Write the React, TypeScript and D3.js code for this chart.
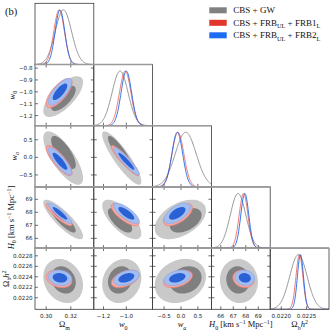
import React from "react";
import * as d3 from "d3";

// parameter order: Omega_m, w0, wa, H0, Omega_b h^2
const paramDomains = [[0.2909, 0.3387], [-1.285, -0.77], [-0.84, 0.9], [65.25, 69.95], [0.02178, 0.022947]];
const xTickValues = [[0.30, 0.32], [-1.2, -1.0], [-0.5, 0.0, 0.5], [66, 67, 68, 69], [0.0220, 0.0225]];
const yTickValues = [[], [-0.8, -0.9, -1.0, -1.1, -1.2], [0.5, 0.0, -0.5], [66, 67, 68, 69], [0.0228, 0.0226, 0.0224, 0.0222, 0.0220]];
const tickFormats = [".2f", ".1f", ".1f", ".0f", ".4f"];

const gwMean = [0.3138, -1.04, -0.02, 67.45, 0.02232];
const gwPeak = [0.3140, -1.055, 0.14, 67.38, 0.02234];
const gwSigma = [0.0066, 0.070, 0.31, 0.62, 0.000172];
const frb1Mean = [0.3105, -1.01, -0.09, 67.82, 0.02236];
const frb1Sigma = [0.0043, 0.050, 0.175, 0.35, 0.000068];
const frb2Mean = [0.3112, -1.0, -0.11, 67.92, 0.02238];
const frb2Sigma = [0.0039, 0.046, 0.16, 0.32, 0.00006];

// correlation for each lower-triangle panel (row param vs column param)
const pairRow = [1, 2, 2, 3, 3, 3, 4, 4, 4, 4];
const pairCol = [0, 0, 1, 0, 1, 2, 0, 1, 2, 3];
const gwRho = [0.7, -0.75, -0.88, -0.85, -0.7, 0.45, -0.2, 0.15, 0.2, -0.05];
const frb1Rho = [0.72, -0.82, -0.92, -0.88, -0.75, 0.6, -0.25, 0.45, 0.4, -0.15];
const frb2Rho = [0.75, -0.85, -0.93, -0.9, -0.77, 0.6, -0.15, 0.4, 0.35, -0.1];

const legendLabels = ["CBS + GW", "CBS + FRB_UL + FRB1_L", "CBS + FRB_UL + FRB2_L"];

const series = [
  { mean: gwMean, peak: gwPeak, sigma: gwSigma, rho: gwRho, outer: "#c9c9c9", inner: "#7f7f7f", edge: "none", line: "#8a8a8a", key: "#808080" },
  { mean: frb1Mean, peak: frb1Mean, sigma: frb1Sigma, rho: frb1Rho, outer: "#f4a9a1", inner: "#e4473d", edge: "#ec7d73", line: "#e8534a", key: "#e2362c" },
  { mean: frb2Mean, peak: frb2Mean, sigma: frb2Sigma, rho: frb2Rho, outer: "#a3bdf1", inner: "#2a62d6", edge: "#8aa8ea", line: "#1f67e6", key: "#1b6cf0" },
];

const X0 = 35, Y0 = 3.3, PW = 58.8, PH = 61.2;
const R68 = 1.515, R95 = 2.448;
const tickFont = "DejaVu Sans";
const mathFont = "Liberation Serif";

function ellipse(mx, my, sx, sy, rho, r) {
  return d3.range(97).map((i) => {
    const t = (i / 96) * 2 * Math.PI;
    const c = Math.cos(t), s = Math.sin(t);
    return [mx + r * sx * c, my + r * sy * (rho * c + Math.sqrt(1 - rho * rho) * s)];
  });
}

function MathText({ parts, size, ...rest }) {
  let prev = 0;
  return (
    <text fontFamily={mathFont} fontSize={size} fill="#111" {...rest}>
      {parts.map((p, i) => {
        const shift = p.sub ? size * 0.28 : p.sup ? -size * 0.38 : 0;
        const dy = shift - prev;
        prev = shift;
        return (
          <tspan key={i} dy={dy} fontSize={p.sub || p.sup ? size * 0.7 : size} fontStyle={p.it ? "italic" : "normal"}>
            {p.t}
          </tspan>
        );
      })}
    </text>
  );
}

function parseSub(s) {
  return s.split(/(_\w+)/).filter((x) => x).map((x) => (x[0] === "_" ? { t: x.slice(1), sub: true } : { t: x }));
}

const axisLabels = [
  [{ t: "Ω" }, { t: "m", sub: true }],
  [{ t: "w", it: true }, { t: "0", sub: true }],
  [{ t: "w", it: true }, { t: "a", sub: true, it: true }],
  [{ t: "H", it: true }, { t: "0", sub: true }, { t: " [km s" }, { t: "−1", sup: true }, { t: " Mpc" }, { t: "−1", sup: true }, { t: "]" }],
  [{ t: "Ω" }, { t: "b", sub: true }, { t: "h", it: true }, { t: "2", sup: true }],
];
const leftLabelX = [0, 15, 16.5, 14, 9];

export default function App() {
  const n = 5;
  const colX = (c) => X0 + c * PW;
  const rowY = (r) => Y0 + r * PH;
  const xs = paramDomains.map((d, i) => d3.scaleLinear().domain(d).range([colX(i), colX(i) + PW]));
  const ys = paramDomains.map((d, i) => d3.scaleLinear().domain(d).range([rowY(i) + PH, rowY(i)]));
  const tl = 3;

  const panels2d = pairRow.map((r, k) => {
    const c = pairCol[k];
    const line = d3.line().x((d) => xs[c](d[0])).y((d) => ys[r](d[1])).curve(d3.curveLinearClosed);
    const id = `clip${r}${c}`;
    return (
      <g key={id}>
        <clipPath id={id}>
          <rect x={colX(c)} y={rowY(r)} width={PW} height={PH} />
        </clipPath>
        <g clipPath={`url(#${id})`}>
          {series.map((s, si) => (
            <g key={si}>
              <path d={line(ellipse(s.mean[c], s.mean[r], s.sigma[c], s.sigma[r], s.rho[k], R95))} fill={s.outer} stroke={s.edge} strokeWidth={0.8} />
              <path d={line(ellipse(s.peak[c], s.peak[r], s.sigma[c], s.sigma[r], s.rho[k], R68))} fill={s.inner} stroke="none" />
            </g>
          ))}
        </g>
        {xTickValues[c].map((v) => (
          <g key={"x" + v} stroke="#333" strokeWidth={0.7}>
            <line x1={xs[c](v)} x2={xs[c](v)} y1={rowY(r) + PH} y2={rowY(r) + PH - tl} />
            <line x1={xs[c](v)} x2={xs[c](v)} y1={rowY(r)} y2={rowY(r) + tl} />
          </g>
        ))}
        {yTickValues[r].map((v) => (
          <g key={"y" + v} stroke="#333" strokeWidth={0.7}>
            <line x1={colX(c)} x2={colX(c) + tl} y1={ys[r](v)} y2={ys[r](v)} />
            <line x1={colX(c) + PW} x2={colX(c) + PW - tl} y1={ys[r](v)} y2={ys[r](v)} />
          </g>
        ))}
        <rect x={colX(c)} y={rowY(r)} width={PW} height={PH} fill="none" stroke="#3a3a3a" strokeWidth={0.8} />
      </g>
    );
  });

  const diag = d3.range(n).map((i) => {
    const yd = d3.scaleLinear().domain([0, 1.12]).range([rowY(i) + PH, rowY(i)]);
    const grid = d3.range(161).map((j) => paramDomains[i][0] + ((paramDomains[i][1] - paramDomains[i][0]) * j) / 160);
    const id = `dclip${i}`;
    return (
      <g key={id}>
        <clipPath id={id}>
          <rect x={colX(i)} y={rowY(i)} width={PW} height={PH} />
        </clipPath>
        <g clipPath={`url(#${id})`}>
          {series.map((s, si) => {
            const pts = grid.map((x) => [x, Math.exp(-0.5 * ((x - s.peak[i]) / s.sigma[i]) ** 2)]);
            const ln = d3.line().x((d) => xs[i](d[0])).y((d) => yd(d[1]));
            return <path key={si} d={ln(pts)} fill="none" stroke={s.line} strokeWidth={0.9} opacity={si === 1 ? 0.85 : 1} />;
          })}
        </g>
        {xTickValues[i].map((v) => (
          <line key={v} x1={xs[i](v)} x2={xs[i](v)} y1={rowY(i) + PH} y2={rowY(i) + PH - tl} stroke="#333" strokeWidth={0.7} />
        ))}
        <rect x={colX(i)} y={rowY(i)} width={PW} height={PH} fill="none" stroke="#3a3a3a" strokeWidth={0.8} />
      </g>
    );
  });

  const bottom = rowY(n);

  return (
    <svg width={332} height={333} style={{ position: "absolute", left: 0, top: 0, background: "#fff" }}>
      {panels2d}
      {diag}
      {d3.range(1, n).map((r) => (
        <line key={r} x1={X0} x2={colX(r + 1)} y1={rowY(r)} y2={rowY(r)} stroke="#9a9a9a" strokeWidth={1.6} />
      ))}
      {/* bottom tick labels */}
      {d3.range(n).map((c) =>
        xTickValues[c].map((v) => (
          <text key={c + "_" + v} x={xs[c](v)} y={bottom + 8.2} textAnchor="middle" fontFamily={tickFont} fontSize={5.6} fill="#222">
            {d3.format(tickFormats[c])(v)}
          </text>
        ))
      )}
      {/* left tick labels */}
      {d3.range(1, n).map((r) =>
        yTickValues[r].map((v) => (
          <text key={r + "_" + v} x={32.5} y={ys[r](v)} textAnchor="end" dominantBaseline="central" fontFamily={tickFont} fontSize={5.6} fill="#222">
            {d3.format(tickFormats[r])(v)}
          </text>
        ))
      )}
      {/* axis labels */}
      {d3.range(n).map((c) => (
        <MathText key={"bl" + c} parts={axisLabels[c]} size={8.5} x={colX(c) + PW / 2} y={bottom + 18} textAnchor="middle" />
      ))}
      {d3.range(1, n).map((r) => (
        <MathText key={"ll" + r} parts={axisLabels[r]} size={8.5} textAnchor="middle" transform={`translate(${leftLabelX[r]},${rowY(r) + PH / 2}) rotate(-90)`} />
      ))}
      {/* legend */}
      {legendLabels.map((lab, i) => (
        <g key={lab}>
          <rect x={209.3} y={7.3 + i * 12.5} width={17.4} height={6} fill={series[i].key} />
          <MathText parts={parseSub(lab)} size={9} x={233.3} y={13.3 + i * 12.5} />
        </g>
      ))}
      <text x={5} y={14.5} fontFamily={mathFont} fontSize={10.5} fill="#111">(b)</text>
    </svg>
  );
}
